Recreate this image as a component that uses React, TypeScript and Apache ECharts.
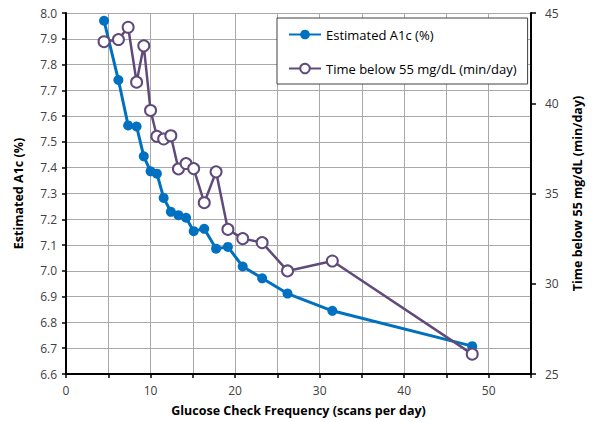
import React, { useEffect, useRef } from "react";
import * as echarts from "echarts";

const frequency = [4.5, 6.2, 7.35, 8.35, 9.2, 10.0, 10.75, 11.55, 12.4, 13.3, 14.2, 15.1, 16.35, 17.75, 19.15, 20.9, 23.2, 26.2, 31.5, 48.05];
const a1c = [7.97, 7.74, 7.564, 7.56, 7.444, 7.386, 7.377, 7.283, 7.229, 7.216, 7.206, 7.154, 7.163, 7.086, 7.093, 7.017, 6.971, 6.912, 6.845, 6.708];
const timeBelow = [43.41, 43.53, 44.21, 41.17, 43.18, 39.6, 38.17, 38.02, 38.2, 36.36, 36.66, 36.38, 34.49, 36.2, 33.01, 32.5, 32.28, 30.71, 31.26, 26.1];

const seriesNames = ["Estimated A1c (%)", "Time below 55 mg/dL (min/day)"];
const xTitle = "Glucose Check Frequency (scans per day)";

const FONT = "'Open Sans', sans-serif";

export default function App() {
  const ref = useRef<HTMLDivElement>(null);
  useEffect(() => {
    if (!ref.current) return;
    const chart = echarts.init(ref.current, undefined, { renderer: "svg" });
    chart.setOption({
      animation: false,
      backgroundColor: "#ffffff",
      textStyle: { fontFamily: FONT },
      grid: { left: 66, right: 54, top: 13, bottom: 47, containLabel: false },
      legend: {
        orient: "vertical",
        left: 277,
        top: 18,
        padding: [10, 11, 9, 11],
        itemGap: 21,
        itemWidth: 32,
        itemHeight: 12,
        backgroundColor: "#ffffff",
        borderColor: "#404040",
        borderWidth: 1,
        borderRadius: 0,
        textStyle: { fontFamily: FONT, fontSize: 13, color: "#000000" },
        data: seriesNames,
      },
      xAxis: {
        type: "value",
        min: 0,
        max: 55,
        interval: 5,
        name: xTitle,
        nameLocation: "middle",
        nameGap: 30,
        nameTextStyle: { fontFamily: FONT, fontSize: 12.5, fontWeight: "bold", color: "#000000", align: "center" },
        axisLine: { show: true, onZero: false, lineStyle: { color: "#000000", width: 2 } },
        axisTick: { show: true, length: 4, lineStyle: { color: "#000000", width: 1.5 } },
        axisLabel: {
          margin: 10,
          fontFamily: FONT,
          fontSize: 12,
          color: "#404040",
          formatter: (v: number) => (v % 10 === 0 ? String(v) : ""),
        },
        splitLine: { show: true, lineStyle: { color: "#A8A8A8", width: 1 } },
      },
      yAxis: [
        {
          type: "value",
          min: 6.6,
          max: 8.0,
          interval: 0.1,
          position: "left",
          name: seriesNames[0],
          nameLocation: "middle",
          nameRotate: 90,
          nameGap: 41,
          nameTextStyle: { fontFamily: FONT, fontSize: 12.5, fontWeight: "bold", color: "#000000" },
          axisLine: { show: true, lineStyle: { color: "#000000", width: 2 } },
          axisTick: { show: true, length: 4, lineStyle: { color: "#000000", width: 1.5 } },
          axisLabel: {
            margin: 9,
            fontFamily: FONT,
            fontSize: 12,
            color: "#404040",
            formatter: (v: number) => v.toFixed(1),
          },
          splitLine: { show: true, lineStyle: { color: "#A8A8A8", width: 1 } },
        },
        {
          type: "value",
          min: 25,
          max: 45,
          interval: 5,
          position: "right",
          name: seriesNames[1],
          nameLocation: "middle",
          nameRotate: 90,
          nameGap: 40,
          nameTextStyle: { fontFamily: FONT, fontSize: 12.5, fontWeight: "bold", color: "#000000" },
          axisLine: { show: true, lineStyle: { color: "#000000", width: 2 } },
          axisTick: { show: true, length: 5, lineStyle: { color: "#000000", width: 1.5 } },
          axisLabel: { margin: 14, fontFamily: FONT, fontSize: 12, color: "#404040" },
          splitLine: { show: false },
        },
      ],
      series: [
        {
          name: seriesNames[0],
          type: "line",
          yAxisIndex: 0,
          data: frequency.map((f, i) => [f, a1c[i]]),
          symbol: "circle",
          symbolSize: 10,
          lineStyle: { color: "#0070C0", width: 3 },
          itemStyle: { color: "#0070C0" },
          z: 2,
        },
        {
          name: seriesNames[1],
          type: "line",
          yAxisIndex: 1,
          data: frequency.map((f, i) => [f, timeBelow[i]]),
          symbol: "circle",
          symbolSize: 11,
          lineStyle: { color: "#604A7B", width: 2.5 },
          itemStyle: { color: "#ffffff", borderColor: "#604A7B", borderWidth: 2 },
          z: 3,
        },
      ],
    });
    return () => chart.dispose();
  }, []);
  return <div ref={ref} style={{ position: "absolute", left: 0, top: 0, width: 592, height: 422 }} />;
}
